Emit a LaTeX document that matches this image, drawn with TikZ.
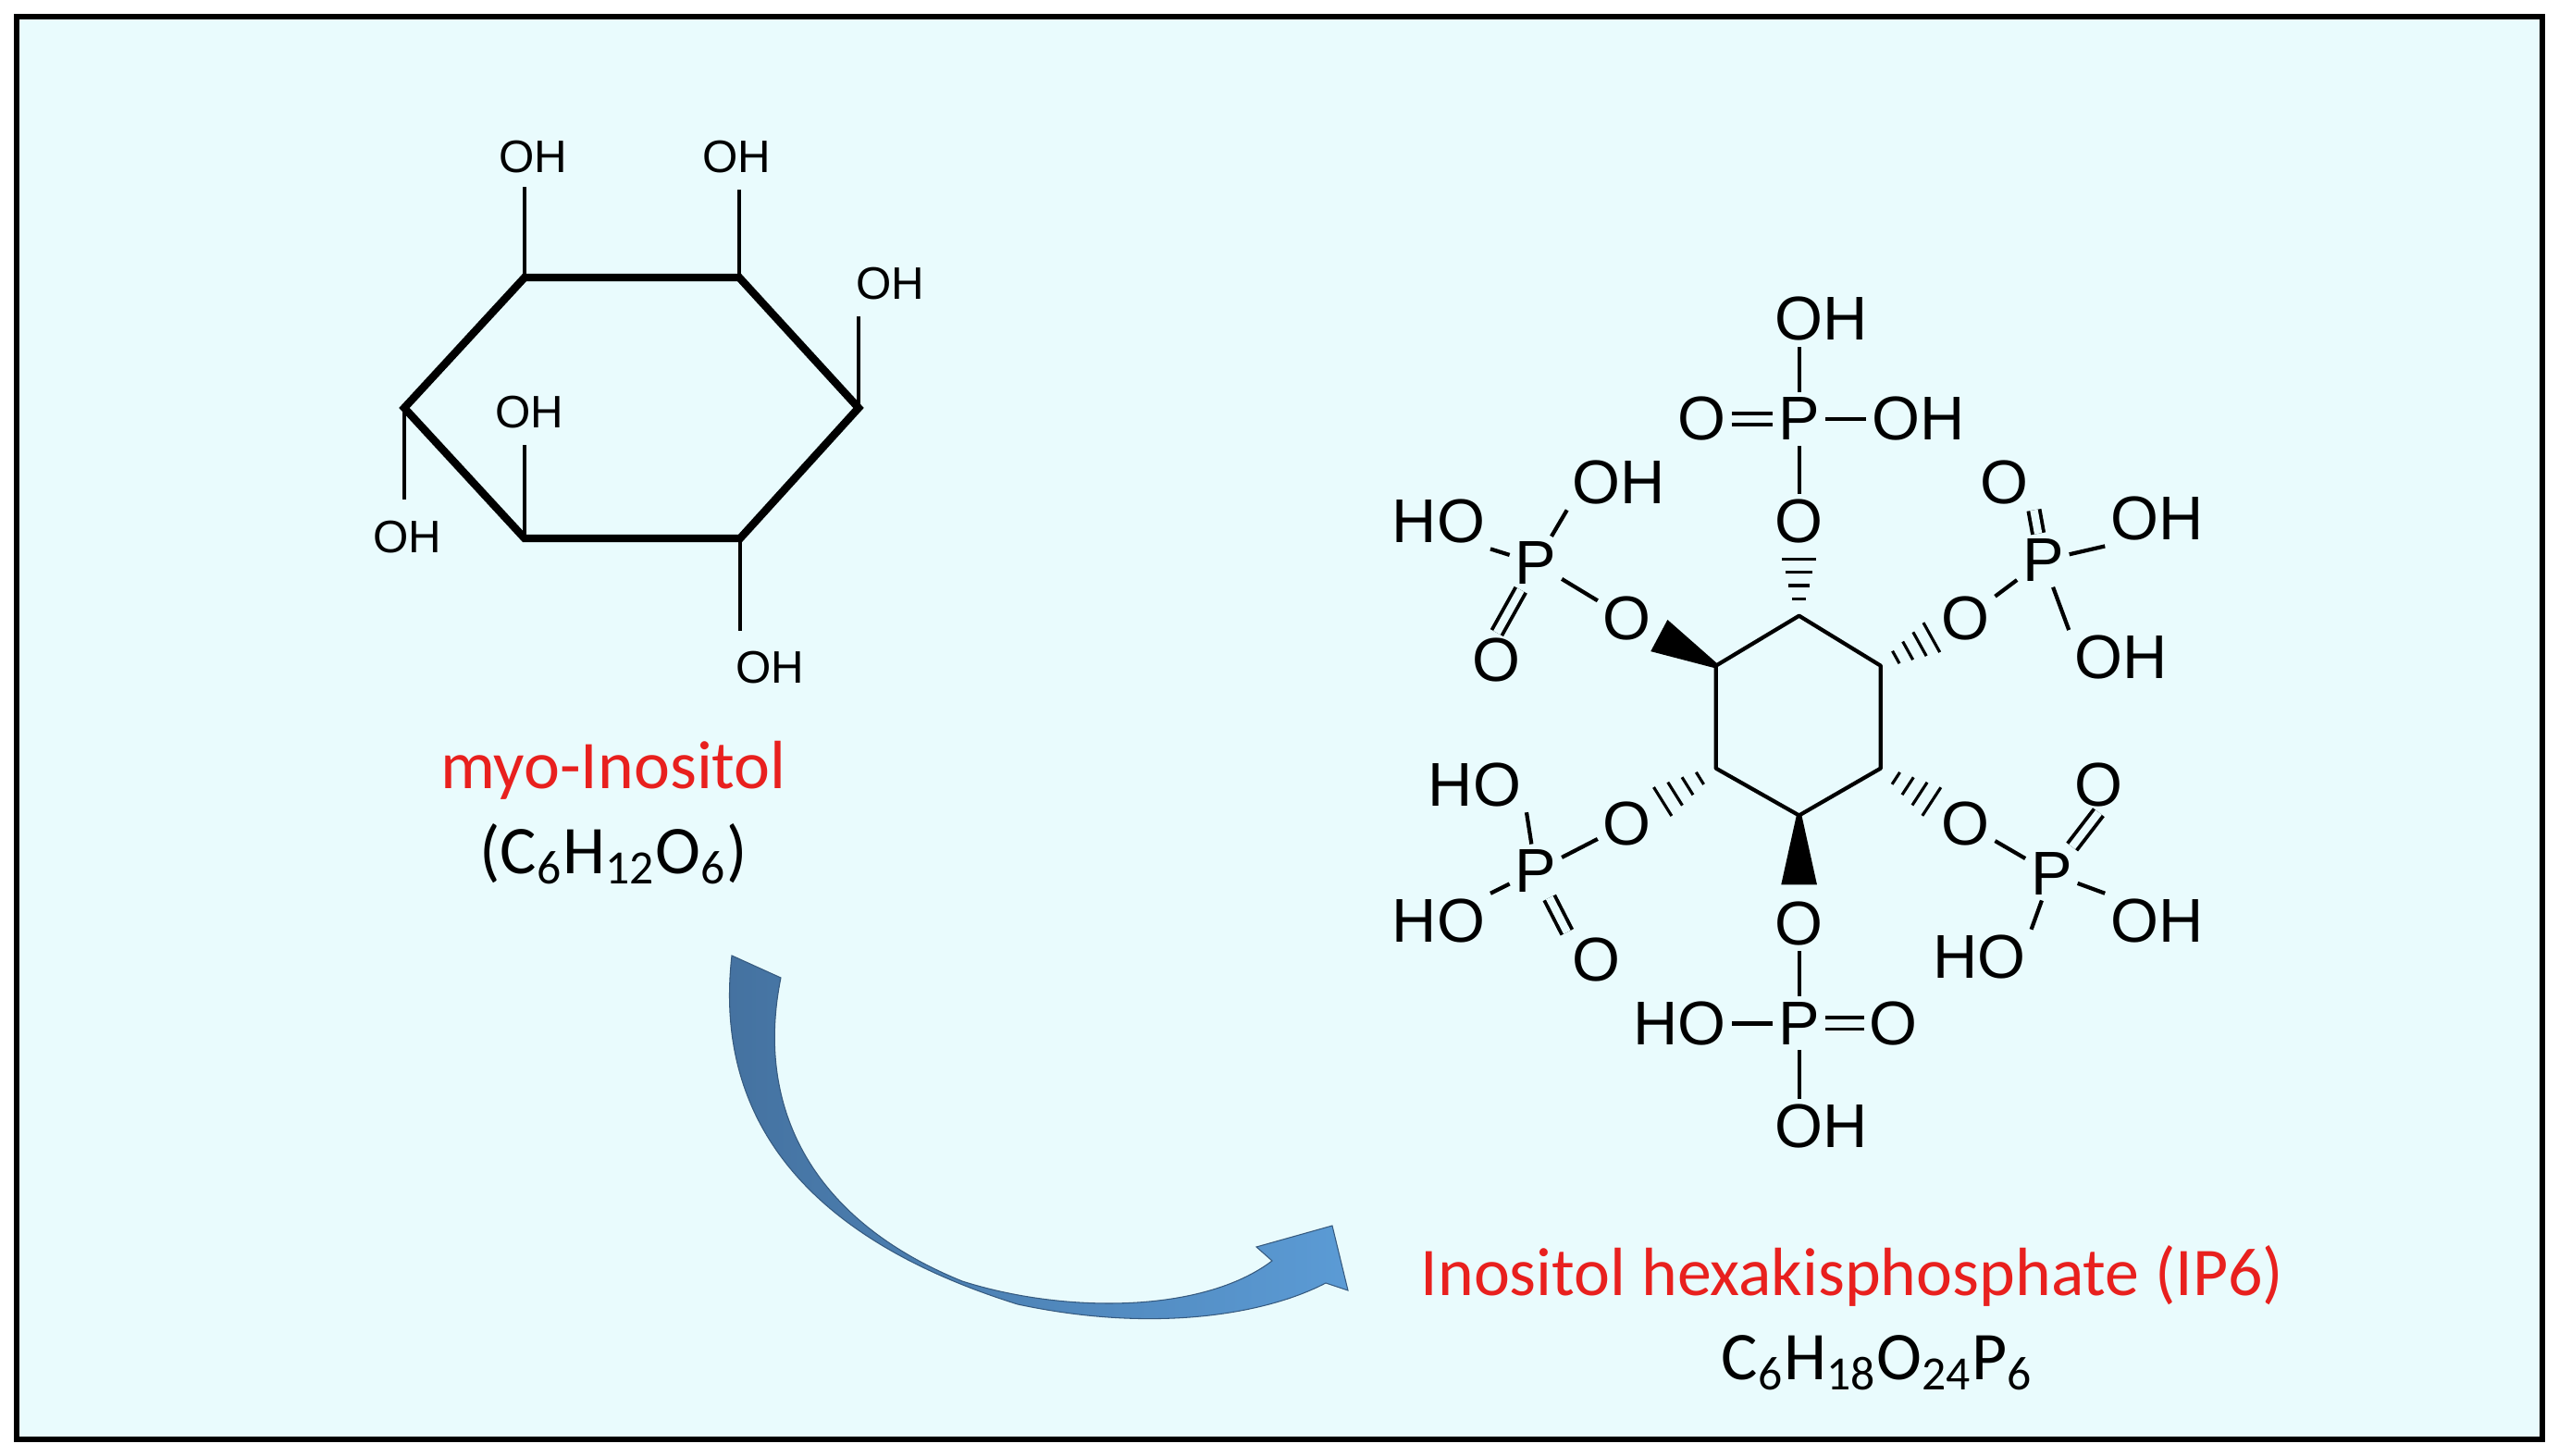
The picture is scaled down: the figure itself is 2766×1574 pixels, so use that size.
\documentclass[tikz,border=0pt]{standalone}
\usepackage{fontspec}
\setmainfont{Liberation Sans}
\newfontfamily\calfont{Carlito}
\usetikzlibrary{calc}
\definecolor{bg}{HTML}{E9FBFD}
\definecolor{lab}{HTML}{E8201E}
\definecolor{arrA}{HTML}{44719F}
\definecolor{arrB}{HTML}{5B9BD5}
\begin{document}
\begin{tikzpicture}[x=0.01cm,y=-0.01cm,
  ipatom/.style={inner sep=1.5pt,font=\fontsize{19}{20}\selectfont},
  myoatom/.style={inner sep=1.5pt,font=\fontsize{14}{16}\selectfont},
  sbond/.style={line width=1.2pt},
  dbond/.style={line width=1.1pt,double=bg,double distance=2.4pt},
  caption/.style={font=\calfont\fontsize{21}{24}\selectfont}]
\useasboundingbox (0,0) rectangle (2766,1574);
\fill[white] (0,0) rectangle (2766,1574);
\draw[line width=1.5pt,fill=bg] (18,18) rectangle (2748,1556);

% ---------- myo-inositol ----------
\coordinate (m1) at (567,300);
\coordinate (m2) at (799,300);
\coordinate (m3) at (928,441);
\coordinate (m4) at (800,582);
\coordinate (m5) at (567,582);
\coordinate (m6) at (437,441);
\draw[line width=2.4pt,line join=miter] (m1)--(m2)--(m3)--(m4)--(m5)--(m6)--cycle;
\node[myoatom] (mo1) at (576,170) {OH};
\node[myoatom] (mo2) at (796,170) {OH};
\node[myoatom] (mo3) at (962,307) {OH};
\node[myoatom] (mo4) at (572,446) {OH};
\node[myoatom] (mo5) at (440,581) {OH};
\node[myoatom] (mo6) at (832,722) {OH};
\begin{scope}[line width=0.9pt]
\draw (m1) -- (m1 |- 0,202);
\draw (m2) -- (m2 |- 0,205);
\draw (m3) -- (m3 |- 0,342);
\draw (m5) -- (m5 |- 0,481);
\draw (m6) -- (m6 |- 0,540);
\draw (m4) -- (m4 |- 0,682);
\end{scope}
\node[caption,text=lab] (lmyo) at (663,833) {myo-Inositol};
\node[caption] (fmyo) at (663,923) {(C\textsubscript{6}H\textsubscript{12}O\textsubscript{6})};

% ---------- arrow ----------
\path[left color=arrA,right color=arrB,draw=arrA!80!black,line width=0.3pt]
 (791,1033) .. controls (772,1200) and (860,1335) .. (1100,1410)
 .. controls (1250,1442) and (1370,1420) .. (1433,1387)
 -- (1457,1395) -- (1440,1325) -- (1358,1348) -- (1375,1363)
 .. controls (1300,1420) and (1150,1420) .. (1040,1385)
 .. controls (880,1320) and (815,1200) .. (844,1057) -- cycle;

% ---------- IP6 ----------
\coordinate (r1) at (1944.6,665.7);
\coordinate (r2) at (2032.8,719.7);
\coordinate (r3) at (2032.8,830.6);
\coordinate (r4) at (1944.6,881.5);
\coordinate (r5) at (1854.7,830.6);
\coordinate (r6) at (1854.7,719.7);
\draw[sbond,line join=round] (r1)--(r2)--(r3)--(r4)--(r5)--(r6)--cycle;

% top
\node[ipatom] (a1) at (1944.6,563.8) {O};
\node[ipatom] (p1) at (1944.6,452.9) {P};
\node[ipatom] (a1d) at (1839.7,452.9) {O};
\node[ipatom] (a1r) at (2073.5,452.9) {OH};
\node[ipatom] (a1t) at (1968.6,345) {OH};
% upper right
\node[ipatom] (a2) at (2124.5,668.7) {O};
\node[ipatom] (p2) at (2208.4,605.8) {P};
\node[ipatom] (a2d) at (2166.5,521.8) {O};
\node[ipatom] (a2r) at (2331.3,560.8) {OH};
\node[ipatom] (a2b) at (2292.3,710.7) {OH};
% lower right
\node[ipatom] (a3) at (2124.5,890.5) {O};
\node[ipatom] (p3) at (2217.4,944.5) {P};
\node[ipatom] (a3d) at (2268.4,848.6) {O};
\node[ipatom] (a3r) at (2331.3,995.4) {OH};
\node[ipatom] (a3b) at (2139.5,1034.4) {HO};
% bottom
\node[ipatom] (a4) at (1944.6,998.4) {O};
\node[ipatom] (p4) at (1944.6,1106.4) {P};
\node[ipatom] (a4l) at (1815.7,1106.4) {HO};
\node[ipatom] (a4d) at (2046.5,1106.4) {O};
\node[ipatom] (a4b) at (1968.6,1217.3) {OH};
% lower left
\node[ipatom] (a5) at (1758.8,890.5) {O};
\node[ipatom] (p5) at (1659.9,941.5) {P};
\node[ipatom] (a5t) at (1593.9,848.6) {HO};
\node[ipatom] (a5l) at (1554.9,995.4) {HO};
\node[ipatom] (a5d) at (1725.8,1037.4) {O};
% upper left
\node[ipatom] (a6) at (1758.8,668.7) {O};
\node[ipatom] (p6) at (1659.9,608.8) {P};
\node[ipatom] (a6l) at (1554.9,563.8) {HO};
\node[ipatom] (a6t) at (1749.8,521.8) {OH};
\node[ipatom] (a6d) at (1617.9,713.7) {O};

\begin{scope}[sbond]
\draw (a1) -- (p1);
\draw[dbond] (p1) -- (a1d);
\draw (p1) -- (a1r);
\draw (p1) -- (p1 |- a1t.south);
\draw (a2) -- (p2);
\draw[dbond] (p2) -- (a2d.south east);
\draw (p2) -- (a2r.south west);
\draw (p2) -- (a2b.north west);
\draw (a3) -- (p3);
\draw[dbond] (p3) -- (a3d.south);
\draw (p3) -- (a3r.north west);
\draw (p3) -- (a3b.north east);
\draw (a4) -- (p4);
\draw (p4) -- (a4l);
\draw[dbond] (p4) -- (a4d);
\draw (p4) -- (p4 |- a4b.north);
\draw (a5) -- (p5);
\draw (p5) -- (a5t.south east);
\draw (p5) -- (a5l.north east);
\draw[dbond] (p5) -- (a5d.north west);
\draw (a6) -- (p6);
\draw (p6) -- (a6l.south east);
\draw (p6) -- (a6t.south west);
\draw[dbond] (p6) -- (a6d.north);
\end{scope}

% hashed bonds
\foreach \A/\O in {r1/a1,r2/a2,r3/a3,r5/a5}{
  \foreach \t/\w in {0.18/2.2pt,0.32/3.2pt,0.46/4.2pt,0.6/5.2pt}{
    \coordinate (hm) at ($(\A)!\t!(\O)$);
    \draw[line width=0.9pt] ($(hm)!\w!90:(\O)$) -- ($(hm)!\w!-90:(\O)$);
  }
}
% wedge bonds
\foreach \A/\O in {r4/a4,r6/a6}{
  \coordinate (wm) at ($(\A)!0.64!(\O)$);
  \fill ($(\A)!0.8pt!90:(\O)$) -- ($(wm)!5.5pt!90:(\O)$) -- ($(wm)!5.5pt!-90:(\O)$) -- ($(\A)!0.8pt!-90:(\O)$) -- cycle;
}

\node[caption,text=lab] (lip6) at (2002,1379) {Inositol hexakisphosphate (IP6)};
\node[caption] (fip6) at (2029,1473) {C\textsubscript{6}H\textsubscript{18}O\textsubscript{24}P\textsubscript{6}};
\end{tikzpicture}
\end{document}
